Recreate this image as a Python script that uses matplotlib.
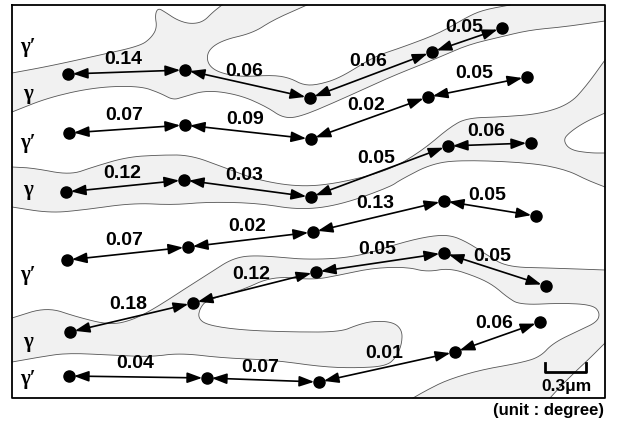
import matplotlib
matplotlib.use("Agg")
import matplotlib.pyplot as plt
import numpy as np

# dot positions of the six rows (image units, y down)
rows_x = [[68, 185, 310, 432, 502],
          [69, 185, 311, 428, 527],
          [66, 184, 311, 448, 531],
          [67, 188, 313, 444, 536],
          [70, 193, 316, 444, 546],
          [69, 207, 319, 455, 540]]
rows_y = [[74, 70, 98, 52, 28],
          [133, 125, 139, 97, 77],
          [192, 180, 197, 146, 143],
          [260, 247, 232, 201, 216],
          [332, 303, 272, 253, 286],
          [376, 378, 382, 352, 322]]
# misorientation between neighbouring dots (degree)
angles = [["0.14", "0.06", "0.06", "0.05"],
          ["0.07", "0.09", "0.02", "0.05"],
          ["0.12", "0.03", "0.05", "0.06"],
          ["0.07", "0.02", "0.13", "0.05"],
          ["0.18", "0.12", "0.05", "0.05"],
          ["0.04", "0.07", "0.01", "0.06"]]
phase_names = ["γ′", "γ", "γ′", "γ", "γ′", "γ", "γ′"]
phase_y = [47, 94, 143, 190, 275, 342, 379]

# traced gamma / gamma-prime interfaces
c1 = [(12, 73), (50, 66), (100, 55), (140, 46), (151, 38), (157, 28), (155, 15), (158, 8),
      (165, 12), (177, 20), (190, 24), (203, 22), (213, 12), (222, 5)]
c2 = [(307, 5), (273, 20), (253, 33), (223, 40), (208, 50), (207, 63), (217, 72), (240, 77),
      (273, 75), (290, 78), (303, 85), (317, 85), (340, 78), (373, 57), (403, 47), (440, 33),
      (467, 17), (483, 10), (510, 5)]
c3 = [(12, 112), (50, 97), (97, 87), (140, 86), (160, 93), (173, 100), (183, 97), (207, 90),
      (240, 95), (267, 107), (283, 118), (300, 117), (340, 100), (390, 77), (433, 60),
      (467, 45), (500, 37), (530, 30), (563, 27), (605, 21)]
c4 = [(12, 167), (33, 168), (70, 175), (93, 167), (127, 157), (160, 155), (190, 155),
      (223, 167), (257, 180), (300, 187), (340, 183), (390, 170), (423, 150), (450, 127),
      (467, 118), (500, 117), (540, 114), (570, 104), (587, 85), (605, 60)]
c5 = [(12, 207), (50, 213), (83, 210), (133, 203), (173, 205), (207, 202), (257, 203),
      (300, 210), (340, 205), (390, 187), (400, 180), (433, 163), (467, 160), (533, 163),
      (567, 170), (587, 180), (605, 187)]
lobe = [(605, 113), (585, 122), (570, 132), (563, 140), (570, 150), (590, 153), (605, 153)]
c6 = [(12, 318), (47, 307), (77, 317), (110, 325), (133, 320), (157, 307), (183, 290),
      (210, 273), (233, 258), (257, 255), (307, 260), (357, 257), (400, 243), (430, 236),
      (450, 235), (467, 242), (487, 255), (507, 267), (550, 268), (605, 270)]
c8 = [(12, 362), (40, 357), (67, 353), (110, 355), (150, 357), (180, 353), (223, 358),
      (273, 360), (323, 367), (357, 368), (387, 366), (397, 356), (402, 343), (402, 330),
      (393, 322), (373, 321), (357, 325), (340, 332), (290, 332), (240, 330), (207, 325),
      (198, 318), (200, 308), (207, 300), (240, 291), (273, 276), (313, 280), (340, 275),
      (373, 268), (407, 267), (427, 272), (450, 268), (477, 277), (493, 285), (507, 297),
      (520, 305), (563, 303), (593, 305), (600, 313), (597, 322), (580, 330), (553, 343),
      (540, 357), (520, 363), (480, 370), (447, 380), (427, 390), (413, 398)]
c9 = [(605, 343), (590, 358), (575, 372), (560, 387), (550, 398)]


def chaikin(pts, n=3):
    # corner cutting so the traced outlines look like smooth interfaces
    p = np.array(pts, dtype=float)
    for _ in range(n):
        q = 0.75 * p[:-1] + 0.25 * p[1:]
        r = 0.25 * p[:-1] + 0.75 * p[1:]
        mid = np.empty((2 * len(q), 2))
        mid[0::2] = q
        mid[1::2] = r
        p = np.vstack([p[:1], mid, p[-1:]])
    return p


fig = plt.figure(figsize=(6.17, 4.21), dpi=100)
ax = fig.add_axes([0, 0, 1, 1])
ax.set_xlim(0, 617)
ax.set_ylim(421, 0)
ax.axis("off")

sm = {k: chaikin(v) for k, v in dict(c1=c1, c2=c2, c3=c3, c4=c4, c5=c5, lobe=lobe,
                                      c6=c6, c8=c8, c9=c9).items()}

shade = "#f1f1f1"
s1 = np.vstack([[(12, 112)], sm["c1"], sm["c2"], [(605, 5)], sm["c3"][::-1]])
s2 = np.vstack([sm["c4"], sm["c5"][::-1]])
s3 = np.vstack([sm["c6"], sm["c9"], sm["c8"][::-1]])
for p in (s1, s2, s3):
    ax.fill(p[:, 0], p[:, 1], color=shade, lw=0, zorder=1)
ax.fill(sm["lobe"][:, 0], sm["lobe"][:, 1], color="white", lw=0, zorder=1)

for p in sm.values():
    ax.plot(p[:, 0], p[:, 1], color="#555555", lw=0.6, zorder=2)

# frame
ax.plot([12, 605, 605, 12, 12], [5, 5, 398, 398, 5], color="black", lw=1.3, zorder=5)

for xs, ys, labs in zip(rows_x, rows_y, angles):
    ax.plot(xs, ys, "o", color="black", ms=8, zorder=4)
    for i in range(len(xs) - 1):
        ax.annotate("", xy=(xs[i + 1], ys[i + 1]), xytext=(xs[i], ys[i]),
                    arrowprops=dict(arrowstyle="<|-|>,head_length=0.9,head_width=0.32",
                                    mutation_scale=10, color="black", lw=1.2,
                                    shrinkA=3.5, shrinkB=3.5), zorder=3)
        mx = (xs[i] + xs[i + 1]) / 2
        my = (ys[i] + ys[i + 1]) / 2
        ax.text(mx - 3, my - 13, labs[i], ha="center", va="center", fontsize=14,
                fontweight="bold", family="Liberation Sans", zorder=6)

for name, y in zip(phase_names, phase_y):
    ax.text(28, y, name, ha="center", va="center", fontsize=15, fontweight="bold",
            family="Liberation Serif", zorder=6)

# scale bar
ax.plot([545, 545, 586, 586], [363, 372, 372, 363], color="black", lw=2, zorder=6)
ax.text(566, 387, "0.3μm", ha="center", va="center", fontsize=12.5, fontweight="bold",
        family="Liberation Sans", zorder=6)
ax.text(604, 410, "(unit : degree)", ha="right", va="center", fontsize=12,
        fontweight="bold", family="Liberation Sans", zorder=6)

fig.savefig("out.png", dpi=100)
